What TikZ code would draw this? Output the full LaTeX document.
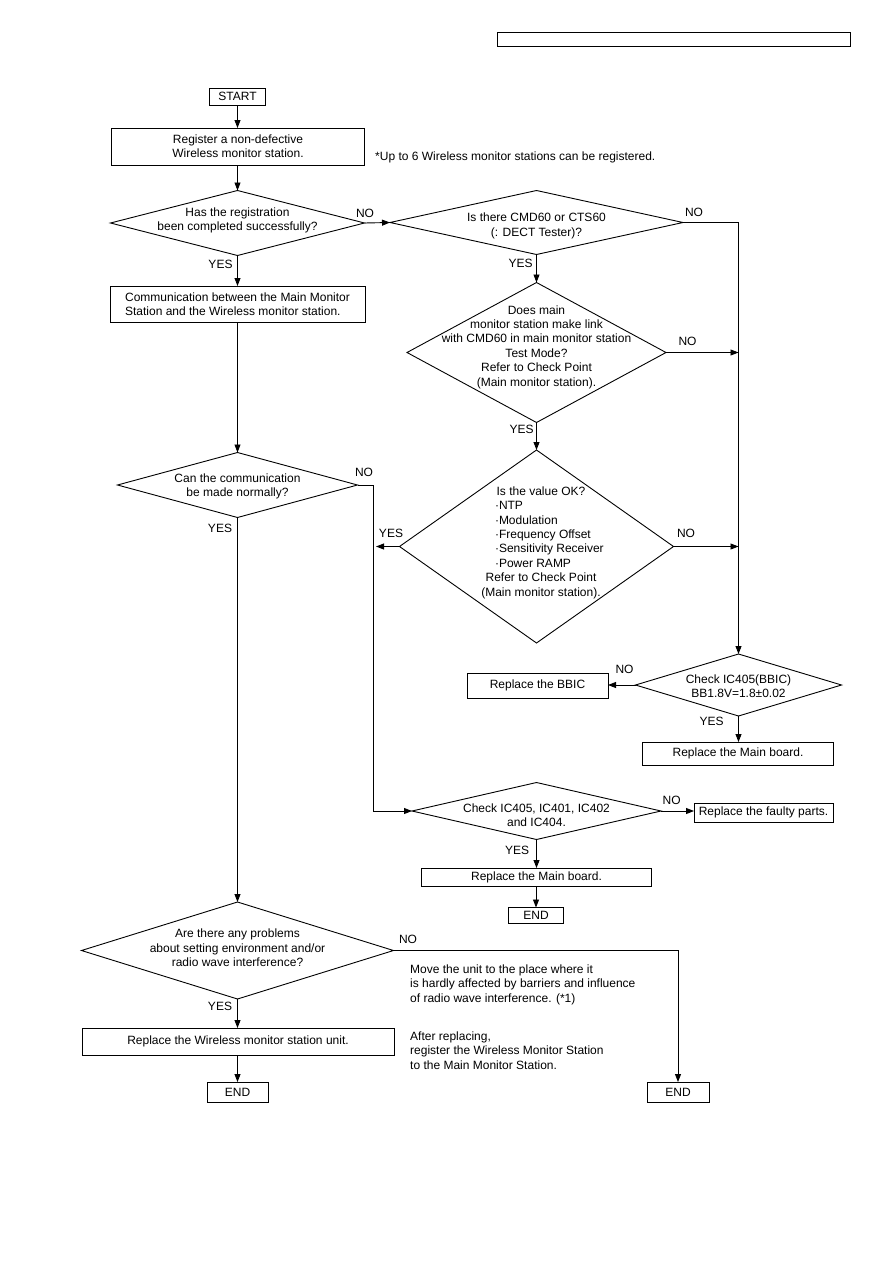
\documentclass[tikz,border=0pt]{standalone}
\usepackage{fontspec}
\setmainfont{Liberation Sans}
\usetikzlibrary{shapes.geometric,arrows.meta}
\begin{document}
\begin{tikzpicture}[x=1pt,y=-1pt,
  font=\fontsize{12}{14.4}\selectfont,
  box/.style={draw, line width=0.9pt, rectangle, inner sep=1pt, outer sep=0pt, align=center},
  dia/.style={draw, line width=0.9pt, diamond, inner sep=0pt, outer sep=0pt},
  txt/.style={inner sep=0pt, align=center},
  note/.style={inner sep=0pt, align=left},
  lbl/.style={inner sep=0pt},
  arr/.style={line width=0.9pt, -{Triangle[length=8pt,width=6pt]}},
  ln/.style={line width=0.9pt}]
\useasboundingbox (0,0) rectangle (893,1263);
\fill[white] (0,0) rectangle (893,1263);

% header box
\node[draw, line width=1pt, minimum width=353pt, minimum height=14pt, inner sep=0pt] (hdr) at (673.5,39.3) {};

% left column
\node[box, minimum width=56pt, minimum height=17pt] (start) at (237.5,96.5) {START};
\node[box, minimum width=253pt, minimum height=37pt] (reg) at (238,146.5) {Register a non-defective\\Wireless monitor station.};
\node[note, anchor=west] (upto) at (375,157.5) {*Up to 6 Wireless monitor stations can be registered.};

\node[dia, minimum width=254pt, minimum height=65pt] (d1) at (237.5,223) {};
\node[txt] (d1t) at (237.5,220.5) {Has the registration\\been completed successfully?};

\node[box, minimum width=255pt, minimum height=36pt, align=left] (comm) at (237.5,304) {Communication between the Main Monitor\\Station and the Wireless monitor station.};

\node[dia, minimum width=240pt, minimum height=65pt] (d5) at (237.5,485) {};
\node[txt] (d5t) at (237.5,486.5) {Can the communication\\be made normally?};

\node[dia, minimum width=312pt, minimum height=97pt] (d8) at (237.5,950.5) {};
\node[txt] (d8t) at (237.5,948) {Are there any problems\\about setting environment and/or\\radio wave interference?};

\node[box, minimum width=312pt, minimum height=27pt] (wunit) at (238,1041.5) {Replace the Wireless monitor station unit.};
\node[box, minimum width=61pt, minimum height=20pt] (end2) at (237.5,1092) {END};

% right column
\node[dia, minimum width=293pt, minimum height=64pt] (d2) at (536.5,222.5) {};
\node[txt] (d2t) at (536.5,226) {Is there CMD60 or CTS60\\(: DECT Tester)?};

\node[dia, minimum width=259pt, minimum height=140pt] (d3) at (536.5,352.5) {};
\node[txt] (d3t) at (536.5,347) {Does main\\monitor station make link\\with CMD60 in main monitor station\\Test Mode?\\Refer to Check Point\\(Main monitor station).};

\node[dia, minimum width=274pt, minimum height=193pt] (d4) at (536.5,546.5) {};
\node[txt] (d4t) at (541,542.5) {Is the value OK?\\
\makebox[92pt][l]{·NTP}\\
\makebox[92pt][l]{·Modulation}\\
\makebox[92pt][l]{·Frequency Offset}\\
\makebox[92pt][l]{·Sensitivity Receiver}\\
\makebox[92pt][l]{·Power RAMP}\\
Refer to Check Point\\(Main monitor station).};

\node[dia, minimum width=206pt, minimum height=62pt] (d7) at (738.5,685) {};
\node[txt] (d7t) at (738.5,686.3) {Check IC405(BBIC)\\BB1.8V=1.8±0.02};
\node[box, minimum width=141pt, minimum height=25pt] (bbic) at (537.5,685.5) {Replace the BBIC};
\node[box, minimum width=191pt, minimum height=23pt] (mb1) at (738,753.5) {Replace the Main board.};

\node[dia, minimum width=249pt, minimum height=57pt] (d6) at (536.5,811) {};
\node[txt] (d6t) at (536.5,815) {Check IC405, IC401, IC402\\and IC404.};
\node[box, minimum width=139pt, minimum height=19pt] (faulty) at (763.5,812.5) {Replace the faulty parts.};
\node[box, minimum width=230pt, minimum height=18pt] (mb2) at (536.5,877) {Replace the Main board.};
\node[box, minimum width=55pt, minimum height=16pt] (end1) at (536,915.5) {END};

\node[box, minimum width=62pt, minimum height=20pt] (end3) at (678,1092) {END};

\node[note, anchor=west] (move) at (410,984.5) {Move the unit to the place where it\\is hardly affected by barriers and influence\\of radio wave interference. (*1)};
\node[note, anchor=west] (after) at (410,1050.3) {After replacing,\\register the Wireless Monitor Station\\to the Main Monitor Station.};

% labels
\node[lbl] (l1n) at (365,213) {NO};
\node[lbl] (l1y) at (220.5,264) {YES};
\node[lbl] (l2n) at (694,212.3) {NO};
\node[lbl] (l2y) at (520.5,263) {YES};
\node[lbl] (l3n) at (687.5,341.7) {NO};
\node[lbl] (l3y) at (521.5,429) {YES};
\node[lbl] (l4y) at (391,533) {YES};
\node[lbl] (l4n) at (686,533) {NO};
\node[lbl] (l5n) at (364,472) {NO};
\node[lbl] (l5y) at (220,528) {YES};
\node[lbl] (l7n) at (624.5,669) {NO};
\node[lbl] (l7y) at (711.5,721.7) {YES};
\node[lbl] (l6n) at (671.7,800.7) {NO};
\node[lbl] (l6y) at (517,850) {YES};
\node[lbl] (l8n) at (408,939) {NO};
\node[lbl] (l8y) at (220,1006.7) {YES};

% connectors
\coordinate (j3) at (738.5,352.5);
\coordinate (j4) at (738.5,546.5);
\coordinate (y4) at (376,546.5);
\coordinate (n5) at (373.5,485);

\draw[arr] (start.south) -- (start.south |- reg.north);
\draw[arr] (reg.south -| d1.north) -- (d1.north);
\draw[arr] (d1.east) -- (d2.west);
\draw[arr] (d1.south) -- (comm.north);
\draw[arr] (d2.east) -| (d7.north);
\draw[arr] (d2.south) -- (d3.north);
\draw[arr] (d3.east) -- (j3);
\draw[arr] (d3.south) -- (d4.north);
\draw[arr] (d4.east) -- (j4);
\draw[arr] (d4.west) -- (y4);
\draw[arr] (comm.south) -- (d5.north);
\draw[arr] (d5.east) -- (n5) |- (d6.west);
\draw[arr] (d5.south) -- (d8.north);
\draw[arr] (d7.west) -- (d7.west -| bbic.east);
\draw[arr] (d7.south) -- (d7.south |- mb1.north);
\draw[arr] (d6.east) -- (d6.east -| faulty.west);
\draw[arr] (d6.south) -- (mb2.north);
\draw[arr] (mb2.south -| end1.north) -- (end1.north);
\draw[arr] (d8.east) -| (end3.north);
\draw[arr] (d8.south) -- (d8.south |- wunit.north);
\draw[arr] (wunit.south -| end2.north) -- (end2.north);
\end{tikzpicture}
\end{document}
